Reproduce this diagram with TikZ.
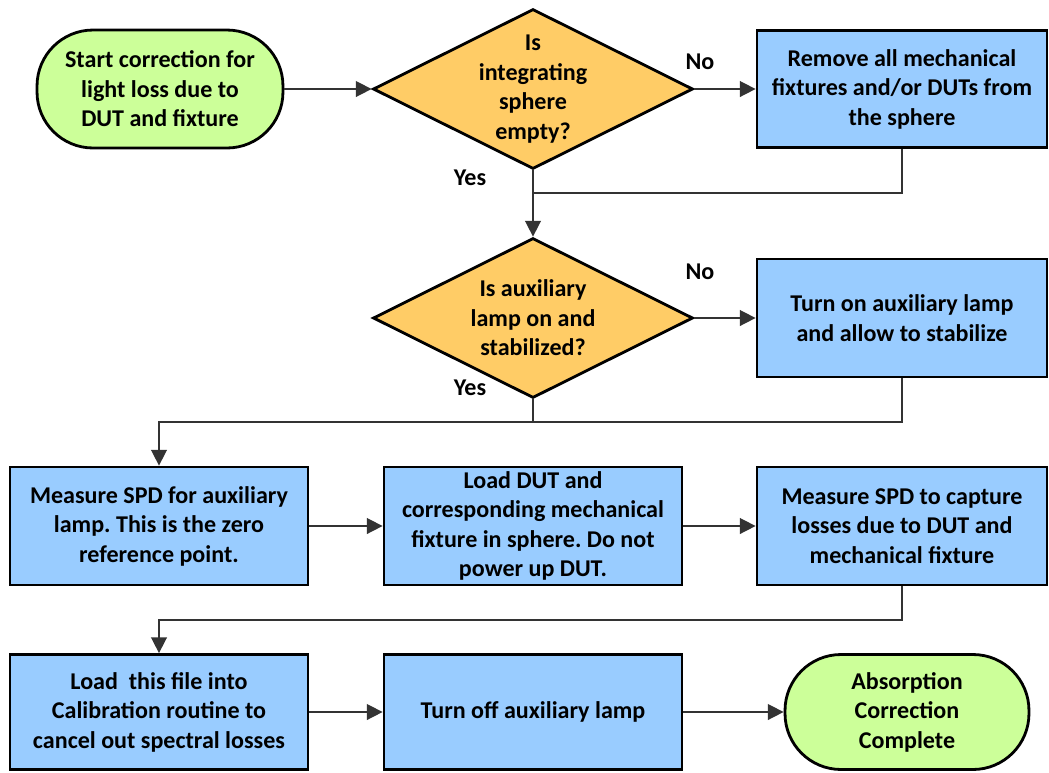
\documentclass[tikz,border=0pt]{standalone}
\usepackage{fontspec}
\setmainfont{Carlito}
\usepackage{tikz}
\usetikzlibrary{shapes.geometric,arrows.meta}
\definecolor{termgreen}{HTML}{CCFF99}
\definecolor{decorange}{HTML}{FFCC66}
\definecolor{boxblue}{HTML}{99CCFF}
\frenchspacing
\begin{document}
\begin{tikzpicture}[x=0.02cm,y=-0.02cm,
		every node/.style={font=\fontsize{13.7}{16.8}\selectfont\bfseries},
		termnode/.style={draw,line width=1.6pt,fill=termgreen,rounded corners=1.12cm,
			minimum height=2.36cm,align=center},
		boxnode/.style={draw,line width=1.6pt,fill=boxblue,minimum width=5.96cm,
			minimum height=2.36cm,align=center,inner sep=2pt},
		decnode/.style={draw,line width=1.6pt,fill=decorange,shape=diamond,inner sep=0pt,
			minimum width=6.4cm,minimum height=3.2cm},
		arrowline/.style={draw=black!80,line width=0.9pt,-{Triangle[length=9pt,width=9pt]}},
		plainline/.style={draw=black!80,line width=0.9pt},
		answer/.style={inner sep=0pt}]
		\useasboundingbox (0,0) rectangle (1049,772);
		% first row
		\node[termnode,minimum width=4.92cm] (start) at (160,89) {Start correction for\\light loss due to\\DUT and fixture};
		\node[decnode,label={[align=center]center:Is\\integrating\\sphere\\empty?}] (empty) at (533,89) {};
		\node[boxnode,minimum width=5.8cm,minimum height=2.34cm] (remove) at (902,89) {Remove all mechanical\\fixtures and/or DUTs from\\the sphere};
		% second row
		\node[decnode,label={[align=center]center:Is auxiliary\\lamp on and\\stabilized?}] (stable) at (533,318) {};
		\node[boxnode,minimum width=5.8cm] (turnon) at (902,318) {Turn on auxiliary lamp\\and allow to stabilize};
		% third row
		\node[boxnode] (zeroref) at (159,526) {Measure SPD for auxiliary\\lamp. This is the zero\\reference point.};
		\node[boxnode] (loaddut) at (533,526) {Load DUT and\\corresponding mechanical\\fixture in sphere. Do not\\power up DUT.};
		\node[boxnode,minimum width=5.8cm] (capture) at (902,526) {Measure SPD to capture\\losses due to DUT and\\mechanical fixture};
		% fourth row
		\node[boxnode,minimum height=2.3cm] (calib) at (159,712) {Load\ \ this file into\\Calibration routine to\\cancel out spectral losses};
		\node[boxnode,minimum height=2.3cm] (lampoff) at (533,712) {Turn off auxiliary lamp};
		\node[termnode,minimum width=4.88cm,minimum height=2.3cm] (done) at (907,712) {Absorption\\Correction\\Complete};
		% answers
		\node[answer] (no1) at (700,62) {No};
		\node[answer] (yes1) at (470,178) {Yes};
		\node[answer] (no2) at (700,272) {No};
		\node[answer] (yes2) at (470,388) {Yes};
		% joints
		\coordinate (j1) at (533,193);
		\coordinate (j2) at (533,422);
		\coordinate (j3) at (533,620);
		% connectors
		\draw[arrowline] (start) -- (empty);
		\draw[arrowline] (empty) -- (remove);
		\draw[plainline] (remove.south) |- (j1);
		\draw[arrowline] (empty.south) -- (stable.north);
		\draw[arrowline] (stable) -- (turnon);
		\draw[plainline] (stable.south) -- (j2);
		\draw[arrowline] (turnon.south) |- (j2) -| (zeroref.north);
		\draw[arrowline] (zeroref) -- (loaddut);
		\draw[arrowline] (loaddut) -- (capture);
		\draw[arrowline] (capture.south) |- (j3) -| (calib.north);
		\draw[arrowline] (calib) -- (lampoff);
		\draw[arrowline] (lampoff) -- (done);
		\end{tikzpicture}
\end{document}
